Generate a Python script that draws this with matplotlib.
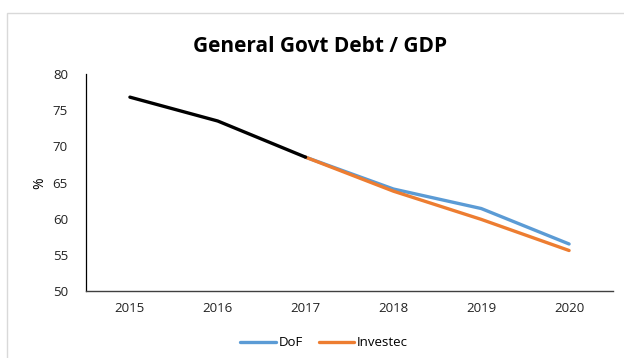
import matplotlib.pyplot as plt
from matplotlib.patches import Rectangle

# data
years = ['2015', '2016', '2017', '2018', '2019', '2020']
hist = [76.8, 73.5, 68.5, None, None, None]
dof = [None, None, 68.5, 64.1, 61.4, 56.5]
investec = [None, None, 68.5, 63.8, 59.9, 55.6]

plt.rcParams['font.family'] = ['Open Sans', 'DejaVu Sans']

fig = plt.figure(figsize=(6.24, 3.58), dpi=100)
ax = fig.add_axes([86 / 624, 1 - 291 / 358, (613 - 86) / 624, (291 - 74) / 358])

x = list(range(len(years)))


def seg(vals):
    xs = [i for i, v in zip(x, vals) if v is not None]
    ys = [v for v in vals if v is not None]
    return xs, ys


ax.plot(*seg(dof), color='#5B9BD5', lw=2.4, solid_capstyle='round', label='DoF')
ax.plot(*seg(investec), color='#ED7D31', lw=2.4, solid_capstyle='round', label='Investec')
ax.plot(*seg(hist), color='black', lw=2.4, solid_capstyle='round')

ax.set_xlim(-0.5, len(years) - 0.5)
ax.set_ylim(50, 80)
ax.set_yticks([50, 55, 60, 65, 70, 75, 80])
ax.set_xticks(x)
ax.set_xticklabels(years)
ax.tick_params(length=0, labelsize=9.5, colors='#222222', pad=8)
ax.tick_params(axis='y', pad=13)
for s in ['top', 'right']:
    ax.spines[s].set_visible(False)
ax.spines['left'].set_color('black')
ax.spines['bottom'].set_color('#404040')
ax.spines['left'].set_linewidth(0.9)
ax.spines['bottom'].set_linewidth(1.0)

fig.text(40 / 624, 1 - 183 / 358, '%', rotation=90, ha='center', va='center', fontsize=10)
fig.text(320 / 624, 1 - 47 / 358, 'General Govt Debt / GDP', ha='center', va='center',
         fontsize=15, fontweight='bold')

leg = fig.legend(loc='center', bbox_to_anchor=(324 / 624, 1 - 343 / 358), ncol=2, frameon=False,
                 fontsize=9.5, handlelength=2.7, handletextpad=0.2, columnspacing=1.2)

# light grey chart border
fig.patches.append(Rectangle((7 / 624, -0.05), 1.1, 1 - 13 / 358 + 0.05, transform=fig.transFigure,
                             fill=False, edgecolor='#D9D9D9', lw=1.0))

fig.savefig('out.png', dpi=100)
